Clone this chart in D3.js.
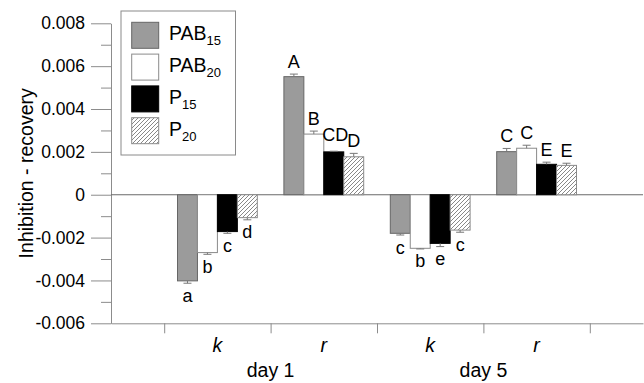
<!DOCTYPE html>
<html><head><meta charset="utf-8">
<script src="https://cdn.jsdelivr.net/npm/d3@7"></script>
<style>
html,body{margin:0;padding:0;background:#fff;}
text{font-family:"Liberation Sans",Arial,sans-serif;fill:#000;}
</style></head>
<body>
<svg id="chart" width="644" height="383"></svg>
<script>
// ---- data ----
const days = ["day 1", "day 5"];
const params = ["k", "r", "k", "r"];
const seriesNames = ["PAB", "PAB", "P", "P"];
const seriesSubs = ["15", "20", "15", "20"];
const valPAB15 = [-0.00402, 0.00551, -0.00180, 0.00201];
const valPAB20 = [-0.00270, 0.00283, -0.00250, 0.00217];
const valP15   = [-0.00172, 0.00200, -0.00227, 0.00142];
const valP20   = [-0.00107, 0.00177, -0.00165, 0.00137];
const errPAB15 = [0.00011, 0.00012, 0.00008, 0.00015];
const errPAB20 = [0.00008, 0.00014, 0.00003, 0.00014];
const errP15   = [0.00008, 0.00003, 0.00015, 0.00010];
const errP20   = [0.00010, 0.00016, 0.00010, 0.00010];
const letPAB15 = ["a", "A", "c", "C"];
const letPAB20 = ["b", "B", "b", "C"];
const letP15   = ["c", "CD", "e", "E"];
const letP20   = ["d", "D", "c", "E"];
const yMajorTicks = [0.008, 0.006, 0.004, 0.002, 0, -0.002, -0.004, -0.006];
const yTickLabels = ["0.008", "0.006", "0.004", "0.002", "0", "-0.002", "-0.004", "-0.006"];
const yMinorTicks = [0.007, 0.005, 0.003, 0.001, -0.001, -0.003, -0.005];

const values = [valPAB15, valPAB20, valP15, valP20];
const errors = [errPAB15, errPAB20, errP15, errP20];
const letters = [letPAB15, letPAB20, letP15, letP20];

// ---- styles ----
const fills = ["#9b9b9b", "#ffffff", "#000000", "url(#hatch)"];
const strokes = ["#666666", "#8a8a8a", "#000000", "#8a8a8a"];
const axisColor = "#8c8c8c";

const svg = d3.select("#chart");
const defs = svg.append("defs");
const pat = defs.append("pattern").attr("id", "hatch")
  .attr("patternUnits", "userSpaceOnUse").attr("width", 4).attr("height", 4);
pat.append("rect").attr("width", 4).attr("height", 4).attr("fill", "#fff");
pat.append("path").attr("d", "M-1,1 L1,-1 M0,4 L4,0 M3,5 L5,3")
  .attr("stroke", "#7a7a7a").attr("stroke-width", 0.9);

const x = d3.scaleLinear().domain([0, 5]).range([111, 643]);
const y = d3.scaleLinear().domain([-0.006, 0.008]).range([323.3, 23.3]);
const unit = x(1) - x(0);
const barW = unit * 0.75 / 4;

// y axis major
const yAxis = d3.axisLeft(y).tickValues(yMajorTicks)
  .tickFormat((d, i) => yTickLabels[i]).tickSize(20).tickPadding(6).tickSizeOuter(0);
const gy = svg.append("g").attr("transform", `translate(${x(0)},0)`).call(yAxis);
gy.selectAll("path,line").attr("stroke", axisColor);
gy.selectAll("text").attr("font-size", 17.5).style("font-family", '"Liberation Sans",Arial,sans-serif').attr("fill", "#000");
// y minor
const gym = svg.append("g").attr("transform", `translate(${x(0)},0)`)
  .call(d3.axisLeft(y).tickValues(yMinorTicks).tickFormat("").tickSize(10).tickSizeOuter(0));
gym.select("path").remove();
gym.selectAll("line").attr("stroke", axisColor);

// x axis
const gx = svg.append("g").attr("transform", `translate(0,${y(-0.006)})`)
  .call(d3.axisBottom(x).tickValues([0.5, 1.5, 2.5, 3.5, 4.5]).tickFormat("").tickSize(10).tickSizeOuter(0));
gx.selectAll("path,line").attr("stroke", axisColor);

// zero line
svg.append("line").attr("x1", x(0)).attr("x2", x(5)).attr("y1", y(0)).attr("y2", y(0))
  .attr("stroke", "#6a6a6a").attr("stroke-width", 1.2);

// bars
values.forEach((vals, s) => {
  vals.forEach((v, g) => {
    const cx = x(g + 1);
    const bx = cx - 2 * barW + s * barW;
    const top = Math.min(y(v), y(0)), h = Math.abs(y(v) - y(0));
    svg.append("rect").attr("x", bx).attr("y", top).attr("width", barW).attr("height", h)
      .attr("fill", fills[s]).attr("stroke", strokes[s]).attr("stroke-width", 1);
    const e = errors[s][g];
    const ve = v < 0 ? v - e : v + e;
    const mx = bx + barW / 2;
    svg.append("line").attr("x1", mx).attr("x2", mx).attr("y1", y(v)).attr("y2", y(ve))
      .attr("stroke", "#777").attr("stroke-width", 1);
    svg.append("line").attr("x1", mx - 4).attr("x2", mx + 4).attr("y1", y(ve)).attr("y2", y(ve))
      .attr("stroke", "#777").attr("stroke-width", 1);
    const lab = letters[s][g];
    const lift = lab.length > 1 ? 4 : 0;
    svg.append("text").attr("x", mx + (lab.length > 1 ? 1.5 : 0))
      .attr("y", v < 0 ? y(ve) + 18.5 : y(ve) - 6 - lift)
      .attr("text-anchor", "middle").attr("font-size", 18).text(lab);
  });
});

// x labels
params.forEach((p, g) => {
  svg.append("text").attr("x", x(g + 1)).attr("y", 351.5).attr("text-anchor", "middle")
    .attr("font-size", 19.5).attr("font-style", "italic").text(p);
});
days.forEach((d, i) => {
  svg.append("text").attr("x", x(1.5 + 2 * i)).attr("y", 377).attr("text-anchor", "middle")
    .attr("font-size", 19.5).text(d);
});

// y title
svg.append("text").attr("transform", `translate(33,${y(0.001)}) rotate(-90)`)
  .attr("text-anchor", "middle").attr("font-size", 19.5).text("Inhibition - recovery");

// legend
const lg = svg.append("g");
lg.append("rect").attr("x", 121).attr("y", 11).attr("width", 114.5).attr("height", 144)
  .attr("fill", "#fff").attr("stroke", "#8a8a8a").attr("stroke-width", 1);
seriesNames.forEach((n, i) => {
  const ty = 22.3 + i * 31.8;
  lg.append("rect").attr("x", 131.7).attr("y", ty).attr("width", 27).attr("height", 26)
    .attr("fill", fills[i]).attr("stroke", strokes[i]).attr("stroke-width", 1);
  const t = lg.append("text").attr("x", 169).attr("y", ty + 18).attr("font-size", 19.5);
  t.append("tspan").text(n);
  t.append("tspan").attr("font-size", 13).attr("dy", 5).text(seriesSubs[i]);
});
</script>
</body></html>
